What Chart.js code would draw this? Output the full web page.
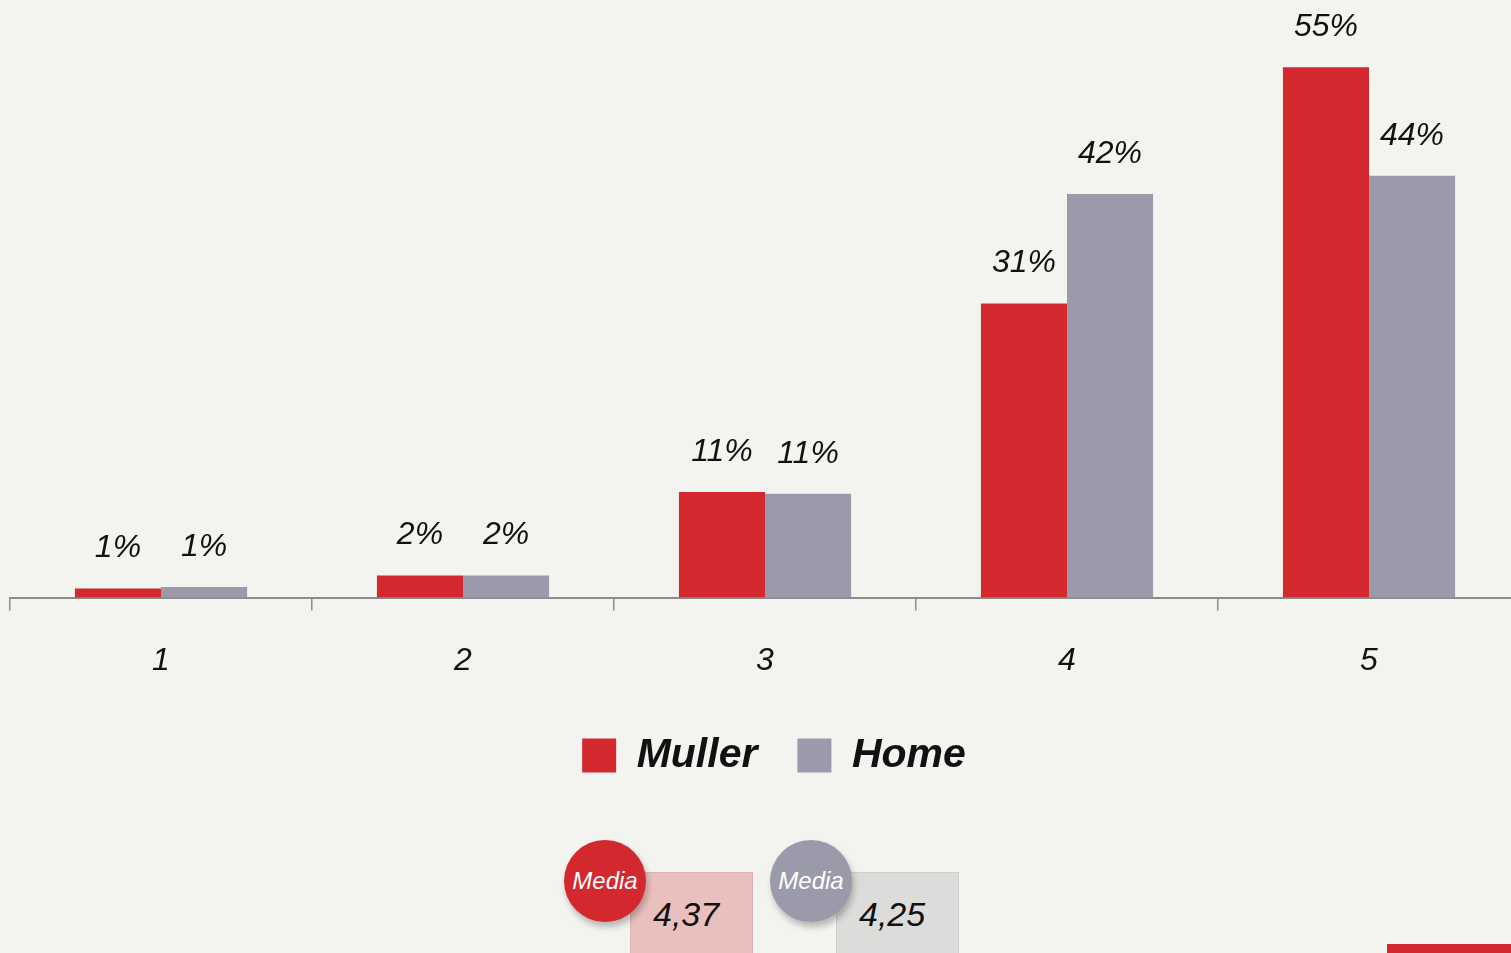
<!DOCTYPE html>
<html>
<head>
<meta charset="utf-8">
<script src="https://cdn.jsdelivr.net/npm/chart.js@4"></script>
<style>
  html, body { margin: 0; padding: 0; background: #f3f4ef; overflow: hidden; width: 1511px; height: 953px; }
  #wrap { position: absolute; left: 0; top: 0; width: 1520px; height: 786px; }
  .badge { position: absolute; font-family: "Liberation Sans", "DejaVu Sans", sans-serif; font-style: italic; }
  .circle { width: 82px; height: 82px; border-radius: 50%; color: #fff; font-size: 24px;
    display: flex; align-items: center; justify-content: center; box-shadow: 2px 5px 6px rgba(0,0,0,0.25); z-index: 2; }
  .box { width: 123px; height: 90px; font-size: 34px; color: #111; padding: 22px 0 0 22px; box-sizing: border-box;
    border: 1px solid rgba(0,0,0,0.06); }
</style>
</head>
<body>
<div id="wrap"><canvas id="chart"></canvas></div>

<div class="badge box" style="left:630px; top:872px; background:#eac0bf;">4,37</div>
<div class="badge circle" style="left:564px; top:840px; background:#d2282e;">Media</div>
<div class="badge box" style="left:836px; top:872px; background:#dcdcdb;">4,25</div>
<div class="badge circle" style="left:770px; top:840px; background:#9a9aab;">Media</div>
<div style="position:absolute; left:1387px; top:944px; width:130px; height:12px; background:#d2282e;"></div>

<script>
// --- data ---
const categories = ["1", "2", "3", "4", "5"];
const mullerValues = [0.95, 2.3, 11.0, 30.6, 55.2];
const homeValues = [1.1, 2.3, 10.8, 42.0, 43.9];
const seriesNames = ["Muller", "Home"];

const RED = "#d2282e";
const GREY = "#9a9aab";
const FONT = "'Liberation Sans', 'DejaVu Sans', sans-serif";

/** Percent label floating ~40px above each bar. */
const valueLabels = {
  id: "valueLabels",
  afterDatasetsDraw(chart) {
    const ctx = chart.ctx;
    ctx.save();
    ctx.font = `italic 32px ${FONT}`;
    ctx.fillStyle = "#111";
    ctx.textAlign = "center";
    ctx.textBaseline = "middle";
    chart.data.datasets.forEach((ds, di) => {
      chart.getDatasetMeta(di).data.forEach((bar, i) => {
        ctx.fillText(Math.round(ds.data[i]) + "%", bar.x, bar.y - 40);
      });
    });
    ctx.restore();
  },
};

// legend in the original sits a little right of the plot's centre
const nudgeLegend = {
  id: "nudgeLegend",
  afterLayout(chart) {
    chart.legend.left += 9;
    chart.legend.right += 9;
  },
};

new Chart(document.getElementById("chart"), {
  type: "bar",
  data: {
    labels: categories,
    datasets: [
      { label: seriesNames[0], data: mullerValues, backgroundColor: RED },
      { label: seriesNames[1], data: homeValues, backgroundColor: GREY },
    ],
  },
  options: {
    responsive: true,
    maintainAspectRatio: false,
    animation: false,
    categoryPercentage: 0.57,
    barPercentage: 1,
    layout: { padding: { left: 10, right: 0, top: 21, bottom: 0 } },
    scales: {
      x: {
        grid: { display: true, drawOnChartArea: false, tickLength: 13, color: "#8c8c8c", lineWidth: 1.5 },
        border: { display: true, color: "#8c8c8c", width: 2 },
        ticks: { color: "#111", font: { family: FONT, style: "italic", size: 32 }, padding: 31 },
        // labels hang a bit into the legend band, so the legend sits closer to the axis
        afterFit(scale) {
          scale.height -= 16;
        },
      },
      y: { display: false, min: 0, max: 60 },
    },
    plugins: {
      legend: {
        position: "bottom",
        labels: {
          boxWidth: 34,
          boxHeight: 34,
          padding: 40,
          color: "#111",
          font: { family: FONT, style: "italic", weight: "bold", size: 41 },
        },
      },
      tooltip: { enabled: false },
    },
  },
  plugins: [valueLabels, nudgeLegend],
});
</script>
</body>
</html>
